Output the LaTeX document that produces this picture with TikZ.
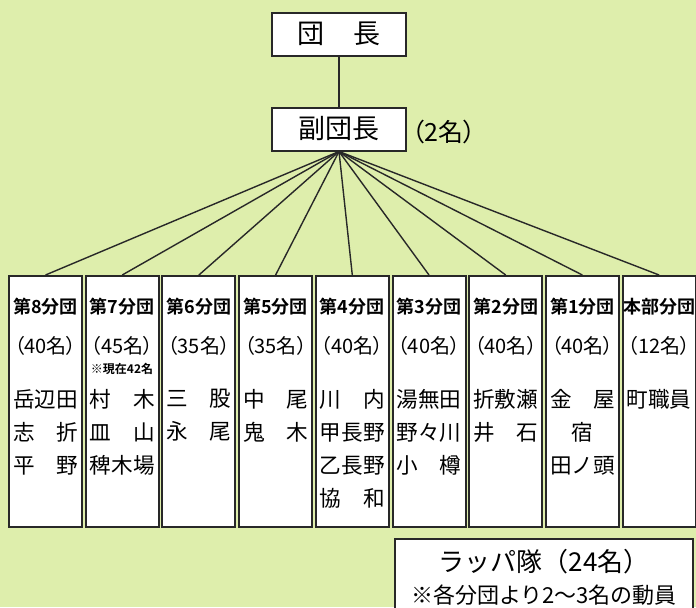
\documentclass[tikz,border=0pt]{standalone}
\usepackage{fontspec}
\usepackage{tikz}
\usepackage{xcolor}
\setmainfont{Noto Sans CJK JP}[BoldFont={Noto Sans CJK JP Bold}]
\newfontfamily\propfont{Noto Sans CJK JP}[RawFeature=+palt]
\definecolor{paper}{RGB}{222,238,172}
\definecolor{ink}{RGB}{40,40,40}
\newcommand{\spread}[3][3em]{\makebox[#1]{#2\hfill#3}}
\tikzset{
    head-box/.style = {draw=ink, fill=white, line width=1pt, rectangle, minimum width=67pt, minimum height=21.5pt, inner sep=0pt, font=\fontsize{13.5}{15}\selectfont},
    branch-box/.style = {draw=ink, fill=white, line width=1pt, rectangle, minimum width=36.5pt, minimum height=125.5pt, anchor=north},
    branch-title/.style = {inner sep=0pt, font=\bfseries\fontsize{9}{10}\selectfont},
    branch-count/.style = {inner sep=0pt, font=\propfont\fontsize{10}{12}\selectfont},
    branch-names/.style = {inner sep=0pt, anchor=north, align=center, font=\fontsize{10.8}{16.5}\selectfont},
    fan-line/.style = {draw=ink, line width=0.7pt},
}

\begin{document}
\begin{tikzpicture}[x=0.5pt, y=-0.5pt]
\useasboundingbox (0,0) rectangle (696,607);
\fill[paper] (0,0) rectangle (696,607);

\node [head-box] (chief) at (339,34) {\spread[3.05em]{団}{長}};
\node [head-box] (vice) at (339,129) {副団長};
\node [inner sep=0pt, font=\propfont\fontsize{12.5}{14}\selectfont] (vice-count) at (444,132) {（2名）};
\draw [fan-line] (chief) -- (vice);

\foreach \title/\num/\names [count=\i from 0] in {
    第8分団/40/{岳辺田\\\spread{志}{折}\\\spread{平}{野}},
    第7分団/45/{\spread{村}{木}\\\spread{皿}{山}\\稗木場},
    第6分団/35/{\spread{三}{股}\\\spread{永}{尾}},
    第5分団/35/{\spread{中}{尾}\\\spread{鬼}{木}},
    第4分団/40/{\spread{川}{内}\\甲長野\\乙長野\\\spread{協}{和}},
    第3分団/40/{湯無田\\野々川\\\spread{小}{樽}},
    第2分団/40/{折敷瀬\\\spread{井}{石}},
    第1分団/40/{\spread{金}{屋}\\宿\\田ノ頭},
    本部分団/12/{町職員}} {
  \node [branch-box] (branch-\i) at ({45.5+76.7*\i},275) {};
  \draw [fan-line] (vice.south) -- (branch-\i.north);
  \node [branch-title] (title-\i) at ({45.5+76.7*\i},307) {\title};
  \node [branch-count] (count-\i) at ({45.5+76.7*\i},346) {（\num 名）};
  \node [branch-names] (names-\i) at ({45.5+76.7*\i},389) {\names};
}
\node [inner sep=0pt, font=\bfseries\fontsize{6}{7}\selectfont] (note-7) at (122,369) {※現在42名};

\node [draw=ink, fill=white, line width=1pt, rectangle, anchor=north west, minimum width=149pt, minimum height=38pt, align=center, font=\fontsize{11}{16}\selectfont] (rappa) at (394,538)
    {{\fontsize{13}{16}\selectfont ラッパ隊（24名）}\\※各分団より2〜3名の動員};
\end{tikzpicture}
\end{document}
